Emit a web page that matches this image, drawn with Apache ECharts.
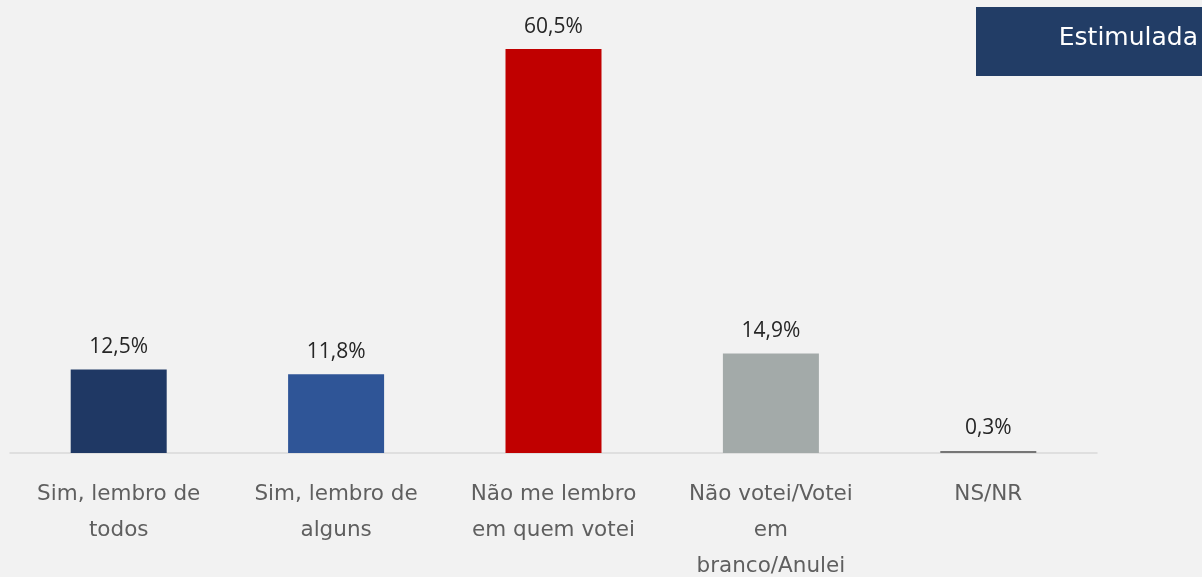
<!DOCTYPE html>
<html>
<head>
<meta charset="utf-8">
<script src="https://cdn.jsdelivr.net/npm/echarts@6/dist/echarts.min.js"></script>
<style>
html,body{margin:0;padding:0;background:#f2f2f2;}
#c{width:1202px;height:577px;}
</style>
</head>
<body>
<div id="c"></div>
<script>
const categories = ['Sim, lembro de\ntodos', 'Sim, lembro de\nalguns', 'Não me lembro\nem quem votei', 'Não votei/Votei\nem\nbranco/Anulei', 'NS/NR'];
const values = [12.5, 11.8, 60.5, 14.9, 0.3];
const barColors = ['#1f3864', '#2f5597', '#c00000', '#a3aaa9', '#767676'];
const badgeText = 'Estimulada';
const WIDE = '"DejaVu Sans", sans-serif';
const FONT = '"Open Sans", sans-serif';

const chart = echarts.init(document.getElementById('c'));
chart.setOption({
  backgroundColor: '#f2f2f2',
  animation: false,
  grid: {left: 10, right: 105, top: 19, bottom: 124, containLabel: false, outerBoundsMode: 'none'},
  graphic: [
    {type: 'rect', left: 976, top: 7, shape: {width: 226, height: 69}, style: {fill: '#223d66'}},
    {type: 'text', right: 4, top: 26, style: {text: badgeText, fill: '#ffffff', font: '400 25px ' + WIDE}}
  ],
  xAxis: {
    type: 'category',
    data: categories,
    axisLine: {show: true, lineStyle: {color: '#d9d9d9', width: 1.5}},
    axisTick: {show: false},
    axisLabel: {color: '#5f5f5f', fontSize: 21.5, lineHeight: 36, margin: 23, interval: 0, fontFamily: WIDE}
  },
  yAxis: {
    type: 'value', min: 0, max: 65,
    show: false, splitLine: {show: false}
  },
  series: [{
    type: 'bar',
    barWidth: 96,
    data: values.map((v, i) => ({value: v, itemStyle: {color: barColors[i]}})),
    label: {
      show: true, position: 'top', distance: 12, color: '#262626', fontSize: 21,
      fontFamily: FONT,
      formatter: p => p.value.toFixed(1).replace('.', ',') + '%'
    }
  }]
});
</script>
</body>
</html>
